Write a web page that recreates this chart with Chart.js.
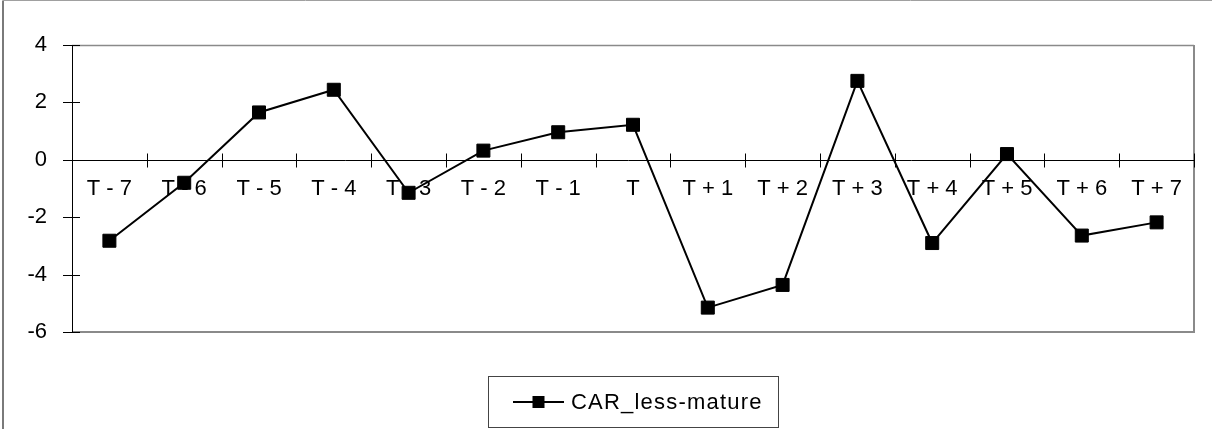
<!DOCTYPE html>
<html>
<head>
<meta charset="utf-8">
<script src="https://cdn.jsdelivr.net/npm/chart.js@4/dist/chart.umd.min.js"></script>
<style>
  html, body { margin: 0; padding: 0; background: #ffffff; }
  #wrap { width: 1212px; height: 429px; position: relative; }
</style>
</head>
<body>
<div id="wrap"><canvas id="c" width="1212" height="429"></canvas></div>
<script>
// Event window labels and cumulative abnormal returns
const categories = ['T - 7', 'T - 6', 'T - 5', 'T - 4', 'T - 3', 'T - 2', 'T - 1', 'T',
                    'T + 1', 'T + 2', 'T + 3', 'T + 4', 'T + 5', 'T + 6', 'T + 7'];
const carLessMature = [-2.82, -0.80, 1.65, 2.44, -1.15, 0.32, 0.96, 1.22,
                       -5.15, -4.36, 2.75, -2.90, 0.20, -2.64, -2.18];
const seriesName = 'CAR_less-mature';
const yTicks = [-6, -4, -2, 0, 2, 4];

const FONT = '"Liberation Sans", Arial, sans-serif';
const FONT_SIZE = 22;

// Frame, plot border, crossing tick marks and the boxed legend
const decorations = {
  id: 'decorations',
  beforeDraw(chart) {
    const ctx = chart.ctx;
    ctx.save();
    ctx.fillStyle = '#ffffff';
    ctx.fillRect(0, 0, chart.width, chart.height);
    // outer frame (left and top edges visible)
    ctx.strokeStyle = '#7a7a7a';
    ctx.lineWidth = 2;
    ctx.beginPath();
    ctx.moveTo(3, chart.height + 5);
    ctx.lineTo(3, 0.5);
    ctx.stroke();
    ctx.strokeStyle = '#a0a0a0';
    ctx.lineWidth = 1;
    ctx.beginPath();
    ctx.moveTo(3, 0.5);
    ctx.lineTo(chart.width + 5, 0.5);
    ctx.stroke();
    ctx.restore();
  },
  beforeDatasetsDraw(chart) {
    const ctx = chart.ctx;
    const a = chart.chartArea;
    const x = chart.scales.x, y = chart.scales.y;
    ctx.save();
    // plot border: top, right, bottom in grey
    ctx.strokeStyle = '#8a8a8a';
    ctx.lineWidth = 1.5;
    ctx.beginPath();
    ctx.moveTo(a.left, a.top + 0.5);
    ctx.lineTo(a.right, a.top + 0.5);
    ctx.stroke();
    ctx.lineWidth = 2;
    ctx.beginPath();
    ctx.moveTo(a.right, a.top);
    ctx.lineTo(a.right, a.bottom);
    ctx.lineTo(a.left, a.bottom);
    ctx.stroke();
    // value axis line
    ctx.strokeStyle = '#000000';
    ctx.lineWidth = 1;
    ctx.beginPath();
    ctx.moveTo(a.left + 0.5, a.top);
    ctx.lineTo(a.left + 0.5, a.bottom);
    ctx.stroke();
    // y tick marks crossing the axis
    y.ticks.forEach(t => {
      const py = Math.round(y.getPixelForValue(t.value)) + 0.5;
      ctx.beginPath();
      ctx.moveTo(a.left - 9, py);
      ctx.lineTo(t.value === 0 ? a.right : a.left + 8, py);
      ctx.stroke();
    });
    // category tick marks crossing the zero line, at the category boundaries
    const zy = Math.round(y.getPixelForValue(0)) + 0.5;
    const step = (a.right - a.left) / categories.length;
    for (let i = 1; i <= categories.length; i++) {
      const px = Math.round(x.getPixelForValue(i - 1) + step / 2) + 0.5;
      ctx.beginPath();
      ctx.moveTo(px, zy - 7);
      ctx.lineTo(px, zy + 7);
      ctx.stroke();
    }
    ctx.restore();
  },
  afterDraw(chart) {
    const ctx = chart.ctx;
    const a = chart.chartArea;
    const ds = chart.data.datasets[0];
    ctx.save();
    ctx.font = FONT_SIZE + 'px ' + FONT;
    ctx.letterSpacing = '1.2px';
    const tw = ctx.measureText(ds.label).width;
    const lineLen = 51;
    const w = 25 + lineLen + 7 + tw + 15;
    const h = 51;
    const left = Math.round((a.left + a.right) / 2 - w / 2);
    const top = Math.round(a.bottom + 44);
    ctx.strokeStyle = '#444444';
    ctx.lineWidth = 1;
    ctx.strokeRect(left + 0.5, top + 0.5, Math.round(w), h);
    const cy = top + 26;
    const lx = left + 25;
    ctx.strokeStyle = ds.borderColor;
    ctx.lineWidth = ds.borderWidth;
    ctx.beginPath();
    ctx.moveTo(lx, cy);
    ctx.lineTo(lx + lineLen, cy);
    ctx.stroke();
    ctx.fillStyle = ds.pointBackgroundColor;
    ctx.fillRect(lx + lineLen / 2 - 6, cy - 6, 12, 12);
    ctx.fillStyle = '#000000';
    ctx.textBaseline = 'middle';
    ctx.textAlign = 'left';
    ctx.fillText(ds.label, lx + lineLen + 7, cy + 1);
    ctx.restore();
  }
};

new Chart(document.getElementById('c'), {
  type: 'line',
  data: {
    labels: categories,
    datasets: [{
      label: seriesName,
      data: carLessMature,
      borderColor: '#000000',
      borderWidth: 2,
      pointStyle: 'rect',
      pointRadius: 9.2,
      pointHoverRadius: 9.2,
      pointBackgroundColor: '#000000',
      pointBorderColor: '#000000',
      pointBorderWidth: 1,
      tension: 0,
      clip: false
    }]
  },
  options: {
    responsive: false,
    animation: false,
    devicePixelRatio: 1,
    layout: { padding: { top: 45, right: 18, bottom: 97, left: 0 } },
    plugins: {
      legend: { display: false },
      tooltip: { enabled: false }
    },
    scales: {
      x: {
        type: 'category',
        position: { y: 0 },
        offset: true,
        grid: { display: false, drawTicks: false },
        border: { display: false },
        ticks: {
          color: '#000000',
          font: { family: FONT, size: FONT_SIZE },
          padding: 16,
          maxRotation: 0,
          autoSkip: false
        }
      },
      y: {
        min: -6,
        max: 4,
        afterFit(scale) { scale.width = 72; },
        afterBuildTicks(scale) { scale.ticks = yTicks.map(v => ({ value: v })); },
        grid: { display: false, drawTicks: false },
        border: { display: false },
        ticks: {
          color: '#000000',
          font: { family: FONT, size: FONT_SIZE },
          padding: 25
        }
      }
    }
  },
  plugins: [decorations]
});
</script>
</body>
</html>
